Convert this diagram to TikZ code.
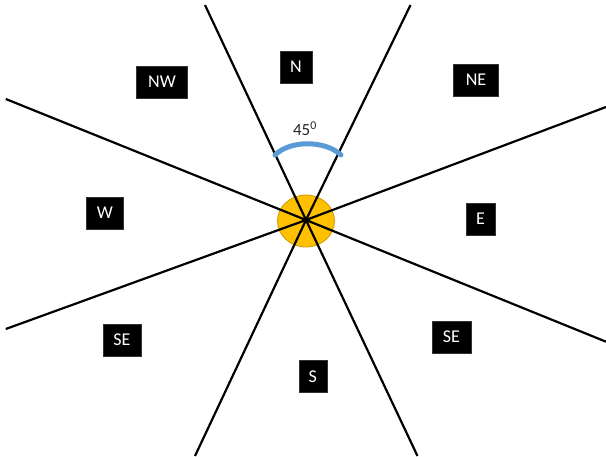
\documentclass[tikz,border=0pt]{standalone}
\usepackage{fontspec}
\setmainfont{Carlito}
\usetikzlibrary{shapes.geometric}
\definecolor{sunfill}{HTML}{FFC000}
\definecolor{sunedge}{HTML}{C99A06}
\definecolor{arcblue}{HTML}{5B9BD5}
\tikzset{
  dirbox/.style={fill=black, draw=black!80, text=white, minimum height=32pt, inner sep=0pt, font=\fontsize{18}{20}\selectfont},
  ray/.style={line width=2.2pt, black},
}
\begin{document}
\begin{tikzpicture}[x=1pt,y=-1pt]
\useasboundingbox (0,0) rectangle (606,456);
\fill[white] (0,0) rectangle (606,456);
% sun
\node[ellipse, draw=sunedge, line width=0.8pt, fill=sunfill, minimum width=57pt, minimum height=52pt, inner sep=0pt] (sun) at (306,221) {};
\coordinate (c) at (306,220);
% ray end points
\coordinate (a1) at (205,5);   \coordinate (a2) at (417.5,456);
\coordinate (b1) at (410.5,5); \coordinate (b2) at (195,456);
\coordinate (c1) at (5.8,99);  \coordinate (c2) at (606,341.7);
\coordinate (d1) at (5.8,329); \coordinate (d2) at (606,107);
\draw[ray] (a1) -- (c) -- (a2);
\draw[ray] (b1) -- (c) -- (b2);
\draw[ray] (c1) -- (c) -- (c2);
\draw[ray] (d1) -- (c) -- (d2);
% angle arc
\coordinate (arcL) at (275,155);
\coordinate (arcR) at (341,155);
\draw[arcblue, line width=5pt, line cap=round] (arcL) .. controls (290,140) and (325,140) .. (arcR);
\node[font=\fontsize{17}{19}\selectfont, text=black!85, inner sep=0pt] (ang) at (305,129) {45\textsuperscript{0}};
% direction boxes
\node[dirbox, minimum width=51pt] (nw) at (162,82) {NW};
\node[dirbox, minimum width=31.5pt] (n) at (296,66.7) {N};
\node[dirbox, minimum width=45pt] (ne) at (476,80) {NE};
\node[dirbox, minimum width=37pt] (w) at (105,212.7) {W};
\node[dirbox, minimum width=29pt] (e) at (480.6,218.8) {E};
\node[dirbox, minimum width=38pt] (sel) at (121.8,340) {SE};
\node[dirbox, minimum width=39pt] (ser) at (451.5,337) {SE};
\node[dirbox, minimum width=28pt] (s) at (312.7,376.5) {S};
\end{tikzpicture}
\end{document}
